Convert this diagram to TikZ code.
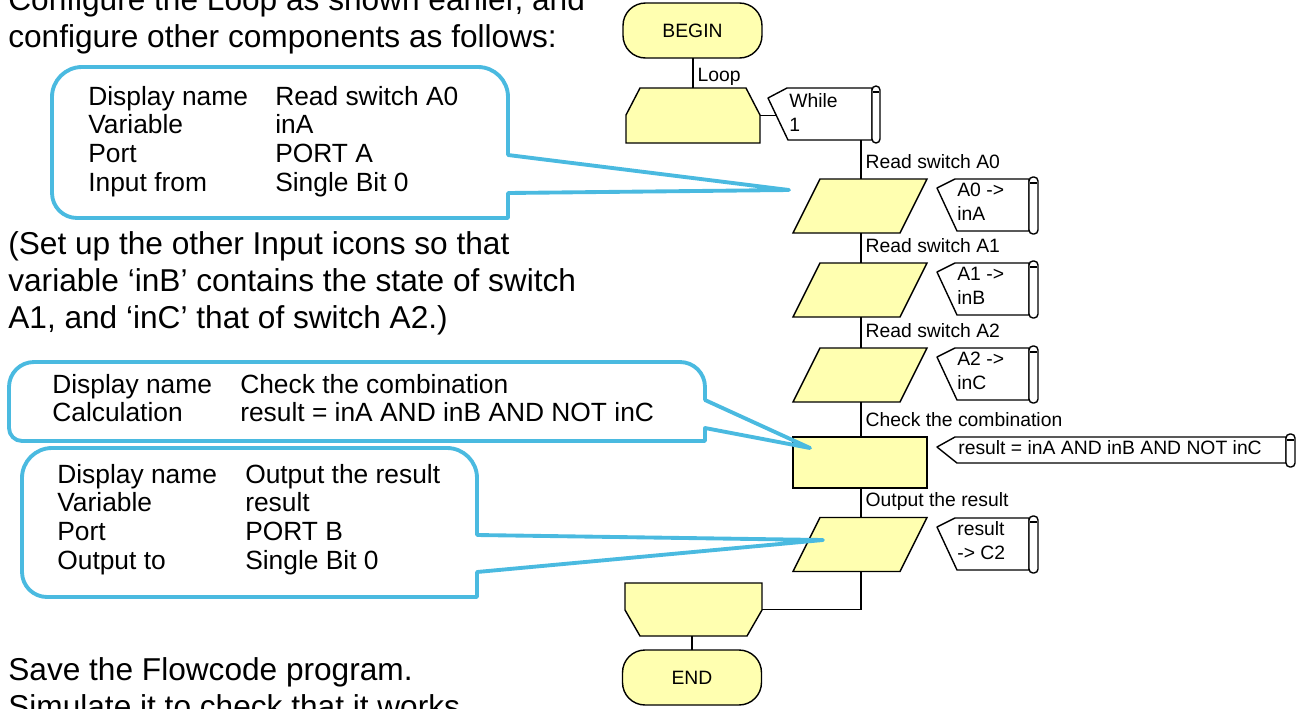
\documentclass[tikz,border=0pt]{standalone}
\usepackage{fontspec}
\setmainfont{Liberation Sans}
\usepackage{tikz}
\definecolor{flowyellow}{RGB}{255,255,176}
\definecolor{callblue}{RGB}{74,186,224}

\begin{document}
\begin{tikzpicture}[x=0.02cm, y=-0.02cm,
    flowline/.style={line width=0.8pt},
    icon/.style={draw, fill=flowyellow, line width=0.8pt, inner sep=0pt, outer sep=0pt},
    slot/.style={inner sep=0pt, outer sep=0pt},
    terminal/.style={icon, rounded corners=0.45cm, minimum width=2.78cm, minimum height=1.1cm, font=\fontsize{11}{13}\selectfont},
    lbl/.style={font=\fontsize{11}{13}\selectfont, anchor=base west, inner sep=0pt, xshift=0.08cm, yshift=0.22cm},
    ctext/.style={font=\fontsize{11}{13.7}\selectfont, anchor=base west, inner sep=0pt},
    comment/.style={draw, fill=white, line width=0.8pt, line join=round},
    callout/.style={draw=callblue, line width=2.2pt, line cap=round, line join=round},
    note/.style={font=\fontsize{15}{16.5}\selectfont, anchor=base west, inner sep=0pt},
    para/.style={font=\fontsize{18}{21.3}\selectfont, anchor=base west, inner sep=0pt}]
    \useasboundingbox (0,0) rectangle (1303,708);

    % text on the left
    \node[para] (intro) at (8,10) {\begin{tabular}[t]{@{}l@{}}Configure the Loop as shown earlier, and\\configure other components as follows:\end{tabular}};
    \node[para] (others) at (8,254) {\begin{tabular}[t]{@{}l@{}}(Set up the other Input icons so that\\variable ‘inB’ contains the state of switch\\A1, and ‘inC’ that of switch A2.)\end{tabular}};
    \node[para] (save) at (8,680) {\begin{tabular}[t]{@{}l@{}}Save the Flowcode program.\\Simulate it to check that it works\end{tabular}};

    \node[note] (note0) at (88,105) {\begin{tabular}[t]{@{}p{3.74cm}@{}l@{}}Display name & Read switch A0\\Variable & inA\\Port & PORT A\\Input from & Single Bit 0\end{tabular}};
    \node[note] (note1) at (52,393) {\begin{tabular}[t]{@{}p{3.76cm}@{}l@{}}Display name & Check the combination\\Calculation & result = inA AND inB AND NOT inC\end{tabular}};
    \node[note] (note2) at (57,483) {\begin{tabular}[t]{@{}p{3.76cm}@{}l@{}}Display name & Output the result\\Variable & result\\Port & PORT B\\Output to & Single Bit 0\end{tabular}};

    % flowchart
    \node[terminal] (begin) at (692.5,30.5) {BEGIN};
    \node[slot, minimum width=2.68cm, minimum height=1.1cm] (loop) at (693,115.5) {};
    \draw[icon] ([xshift=0.28cm]loop.north west) -- ([xshift=-0.28cm]loop.north east) -- ([yshift=-0.54cm]loop.north east)
        -- (loop.south east) -- (loop.south west) -- ([yshift=-0.54cm]loop.north west) -- cycle;
    \foreach \n/\y in {in0/206, in1/290, in2/375, out/544.5} {
        \node[slot, minimum width=2.68cm, minimum height=1.08cm] (\n) at (860,\y) {};
        \draw[icon] ([xshift=0.54cm]\n.north west) -- (\n.north east) -- ([xshift=-0.54cm]\n.south east) -- (\n.south west) -- cycle;
    }
    \node[icon, minimum width=2.68cm, minimum height=1.02cm] (calc) at (860,462.5) {};
    \node[slot, minimum width=2.74cm, minimum height=1.06cm] (loopend) at (693.5,609.5) {};
    \draw[icon] (loopend.north west) -- (loopend.north east) -- ([yshift=0.52cm]loopend.south east)
        -- ([xshift=-0.3cm]loopend.south east) -- ([xshift=0.3cm]loopend.south west) -- ([yshift=0.52cm]loopend.south west) -- cycle;
    \node[terminal] (end) at (692,677.5) {END};

    % comments beside the icons
    \draw[comment] (787,88) -- ++(-19,10) -- ++(20,42) -- ++(84,0) -- ++(0,-52) -- cycle;
    \draw[comment, rounded corners=0.08cm] (872,86) rectangle (880,143);
    \draw[flowline] (873,92) -- (879,92);
    \node[ctext] (cloop) at (789,107) {\begin{tabular}[t]{@{}l@{}}While\\1\end{tabular}};
    \coordinate (wcin) at (777,115.5);
    \coordinate (wout) at (861,140);

    \draw[comment] (955,179) -- ++(-18,9) -- ++(20,43) -- ++(72,0) -- ++(0,-52) -- cycle;
    \draw[comment, rounded corners=0.08cm] (1029,177) rectangle (1038,234);
    \draw[flowline] (1030,183) -- (1037,183);
    \node[ctext] (c0) at (957,196) {\begin{tabular}[t]{@{}l@{}}A0 ->\\inA\end{tabular}};

    \draw[comment] (955,263) -- ++(-18,9) -- ++(20,43) -- ++(72,0) -- ++(0,-52) -- cycle;
    \draw[comment, rounded corners=0.08cm] (1029,261) rectangle (1038,318);
    \draw[flowline] (1030,267) -- (1037,267);
    \node[ctext] (c1) at (957,280) {\begin{tabular}[t]{@{}l@{}}A1 ->\\inB\end{tabular}};

    \draw[comment] (955,348) -- ++(-18,9) -- ++(20,43) -- ++(72,0) -- ++(0,-52) -- cycle;
    \draw[comment, rounded corners=0.08cm] (1029,346) rectangle (1038,403);
    \draw[flowline] (1030,352) -- (1037,352);
    \node[ctext] (c2) at (957,365) {\begin{tabular}[t]{@{}l@{}}A2 ->\\inC\end{tabular}};

    \draw[comment] (955,437) -- ++(-18,10) -- ++(20,16) -- ++(329,0) -- ++(0,-26) -- cycle;
    \draw[comment, rounded corners=0.08cm] (1286,434) rectangle (1295,467);
    \draw[flowline] (1287,440) -- (1294,440);
    \node[ctext] (c3) at (958,454) {result = inA AND inB AND NOT inC};

    \draw[comment] (955,518) -- ++(-18,9) -- ++(20,43) -- ++(72,0) -- ++(0,-52) -- cycle;
    \draw[comment, rounded corners=0.08cm] (1029,516) rectangle (1038,573);
    \draw[flowline] (1030,522) -- (1037,522);
    \node[ctext] (c4) at (957,535) {\begin{tabular}[t]{@{}l@{}}result\\-> C2\end{tabular}};

    % connectors
    \draw[flowline] (begin.south -| loop.north) -- (loop.north) node[lbl, yshift=-0.08cm] {Loop};
    \draw[flowline] (loop.east) -- (wcin);
    \draw[flowline] (wout) -- (wout |- in0.north) node[lbl] {Read switch A0};
    \draw[flowline] (wout |- in0.south) -- (wout |- in1.north) node[lbl] {Read switch A1};
    \draw[flowline] (wout |- in1.south) -- (wout |- in2.north) node[lbl] {Read switch A2};
    \draw[flowline] (wout |- in2.south) -- (wout |- calc.north) node[lbl] {Check the combination};
    \draw[flowline] (wout |- calc.south) -- (wout |- out.north) node[lbl] {Output the result};
    \draw[flowline] (wout |- out.south) |- (loopend.east);
    \draw[flowline] (loopend.south -| end.north) -- (end.north);

    % callouts
    \coordinate (tip0) at (789,190);
    \coordinate (tip1) at (810,448);
    \coordinate (tip2) at (823,540);
    \draw[callout] (508,155) -- (tip0) -- (508,193) -- (508,218) [rounded corners=0.5cm] -- (52,218)
        [rounded corners=0.6cm] -- (52,67) -- (508,67) -- (508,155);
    \draw[callout] (705,400) -- (tip1) -- (705,428) -- (705,441) [rounded corners=0.26cm] -- (9,441)
        [rounded corners=0.5cm] -- (9,362) -- (705,362) -- (705,400);
    \draw[callout] (477,535) -- (tip2) -- (477,572) -- (477,597) [rounded corners=0.5cm] -- (22,597)
        [rounded corners=0.6cm] -- (22,448) -- (477,448) -- (477,535);
\end{tikzpicture}
\end{document}
